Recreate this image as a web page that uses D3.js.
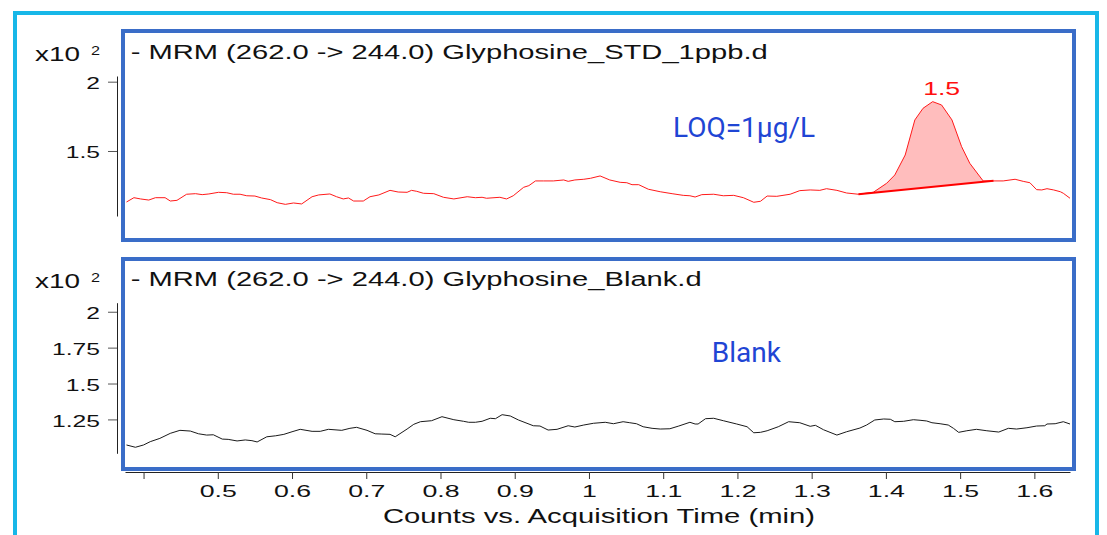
<!DOCTYPE html>
<html><head><meta charset="utf-8">
<script src="https://cdn.jsdelivr.net/npm/d3@7"></script>
<style>body{margin:0;background:#fff}svg{display:block}text{font-family:"Liberation Sans",Arial,sans-serif}</style>
</head><body><svg id="c" width="1107" height="535"></svg>
<script>
// ---- data (counts in units of x10^2) ----
const stdTimes=[0.377,0.387,0.396,0.407,0.416,0.429,0.436,0.445,0.458,0.470,
0.479,0.488,0.501,0.512,0.521,0.530,0.539,0.550,0.559,0.571,
0.580,0.591,0.602,0.613,0.627,0.636,0.651,0.660,0.669,0.676,
0.683,0.696,0.705,0.717,0.732,0.743,0.755,0.761,0.768,0.777,
0.791,0.804,0.818,0.836,0.847,0.856,0.862,0.880,0.889,0.898,
0.912,0.919,0.928,0.939,0.952,0.966,0.972,0.981,0.993,1.002,
1.015,1.028,1.042,1.051,1.058,1.067,1.080,1.096,1.112,1.127,
1.136,1.143,1.152,1.168,1.181,1.195,1.208,1.222,1.231,1.240,
1.253,1.271,1.284,1.298,1.311,1.320,1.334,1.347,1.363,1.383,
1.401,1.412,1.426,1.439,1.450,1.463,1.475,1.489,1.502,1.513,
1.531,1.545,1.558,1.574,1.585,1.594,1.603,1.610,1.617,1.626,
1.635,1.639,1.648];
const stdCounts=[1.132,1.163,1.154,1.146,1.163,1.163,1.139,1.144,1.188,1.192,
1.185,1.190,1.202,1.199,1.188,1.188,1.177,1.175,1.161,1.149,
1.127,1.115,1.125,1.118,1.170,1.183,1.190,1.170,1.154,1.161,
1.139,1.139,1.170,1.183,1.216,1.204,1.202,1.216,1.209,1.195,
1.192,1.166,1.154,1.170,1.163,1.166,1.159,1.166,1.154,1.177,
1.238,1.250,1.284,1.284,1.284,1.291,1.281,1.291,1.296,1.303,
1.320,1.291,1.274,1.271,1.257,1.257,1.224,1.206,1.192,1.180,
1.177,1.168,1.185,1.188,1.177,1.180,1.163,1.130,1.137,1.175,
1.173,1.188,1.214,1.219,1.216,1.228,1.216,1.197,1.188,1.202,
1.267,1.327,1.471,1.724,1.808,1.856,1.832,1.724,1.531,1.411,
1.284,1.284,1.284,1.296,1.281,1.271,1.221,1.219,1.228,1.219,
1.206,1.195,1.159];
const blankTimes=[0.377,0.389,0.400,0.409,0.422,0.436,0.449,0.463,0.474,0.485,
0.494,0.506,0.514,0.526,0.537,0.546,0.553,0.566,0.578,0.589,
0.600,0.611,0.627,0.638,0.649,0.667,0.678,0.687,0.701,0.712,
0.721,0.732,0.739,0.755,0.764,0.773,0.788,0.802,0.818,0.831,
0.838,0.847,0.856,0.867,0.874,0.883,0.894,0.905,0.925,0.934,
0.945,0.957,0.972,0.981,0.993,1.006,1.022,1.033,1.046,1.055,
1.064,1.073,1.085,1.096,1.109,1.121,1.136,1.143,1.147,1.157,
1.168,1.181,1.199,1.213,1.222,1.231,1.240,1.255,1.269,1.284,
1.298,1.305,1.316,1.334,1.347,1.365,1.374,1.385,1.397,1.406,
1.412,1.424,1.437,1.446,1.455,1.462,1.473,1.484,1.491,1.498,
1.509,1.522,1.536,1.552,1.565,1.576,1.590,1.603,1.614,1.617,
1.628,1.639,1.648];
const blankCounts=[1.072,1.056,1.072,1.095,1.118,1.153,1.174,1.169,1.150,1.141,
1.143,1.113,1.111,1.100,1.107,1.102,1.093,1.129,1.136,1.146,
1.164,1.181,1.167,1.167,1.181,1.174,1.188,1.195,1.174,1.150,
1.148,1.146,1.129,1.183,1.216,1.234,1.241,1.269,1.248,1.237,
1.230,1.230,1.237,1.258,1.255,1.283,1.274,1.246,1.206,1.204,
1.176,1.181,1.206,1.197,1.211,1.223,1.230,1.220,1.234,1.227,
1.220,1.199,1.188,1.183,1.185,1.204,1.230,1.218,1.218,1.255,
1.258,1.241,1.218,1.199,1.157,1.160,1.171,1.199,1.234,1.227,
1.202,1.209,1.178,1.141,1.164,1.190,1.211,1.246,1.253,1.251,
1.234,1.237,1.248,1.244,1.239,1.227,1.220,1.211,1.188,1.160,
1.171,1.181,1.171,1.162,1.188,1.183,1.192,1.204,1.206,1.218,
1.220,1.234,1.218];
const peakBaseTimes=[1.363,1.545];
const peakBaseCounts=[1.188,1.286];
const peakLabel="1.5";
const xTicks=[0.4,0.5,0.6,0.7,0.8,0.9,1.0,1.1,1.2,1.3,1.4,1.5,1.6];
const xTickLabels=["","0.5","0.6","0.7","0.8","0.9","1","1.1","1.2","1.3","1.4","1.5","1.6"];
const topYTicks=[1.5,2];
const topYTickLabels=["1.5","2"];
const botYTicks=[1.25,1.5,1.75,2];
const botYTickLabels=["1.25","1.5","1.75","2"];
const titles=["- MRM (262.0 -> 244.0) Glyphosine_STD_1ppb.d","- MRM (262.0 -> 244.0) Glyphosine_Blank.d"];
const notes=["LOQ=1\u03bcg/L","Blank"];
const xTitle="Counts vs. Acquisition Time (min)";

const svg=d3.select("#c");
const x=d3.scaleLinear().domain([0.375,1.648]).range([125,1070]);
const yTop=d3.scaleLinear().domain([1.031,2.041]).range([216,76]);
const yBot=d3.scaleLinear().domain([1.014,2.063]).range([453.3,302.7]);

function stretch(sel,k){sel.each(function(){const w=this.getComputedTextLength();if(w>0){d3.select(this).attr("textLength",w*k).attr("lengthAdjust","spacingAndGlyphs");}});}
function txt(s,xx,yy,size,opts={}){
  const t=svg.append("text").attr("x",xx).attr("y",yy).attr("font-size",size)
   .attr("fill",opts.fill||"#111").attr("text-anchor",opts.anchor||"start").text(s);
  if(opts.family) t.style("font-family",opts.family);
  if(opts.len) t.attr("textLength",opts.len).attr("lengthAdjust","spacingAndGlyphs");
  return t;
}

// outer frame
svg.append("rect").attr("x",15).attr("y",13).attr("width",1082).attr("height",600)
  .attr("fill","none").attr("stroke","#17b7e8").attr("stroke-width",4);

// traces
const topData=stdTimes.map((t,i)=>({t,v:stdCounts[i]}));
const botData=blankTimes.map((t,i)=>({t,v:blankCounts[i]}));
const baseAt=t=>peakBaseCounts[0]+(t-peakBaseTimes[0])*(peakBaseCounts[1]-peakBaseCounts[0])/(peakBaseTimes[1]-peakBaseTimes[0]);
const peakData=topData.filter(d=>d.t>=peakBaseTimes[0]&&d.t<=peakBaseTimes[1]);
svg.append("path").datum(peakData)
  .attr("d",d3.area().x(d=>x(d.t)).y0(d=>yTop(baseAt(d.t))).y1(d=>yTop(Math.max(d.v,baseAt(d.t)))))
  .attr("fill","#ffbdbd");
svg.append("path").datum(topData)
  .attr("d",d3.line().x(d=>x(d.t)).y(d=>yTop(d.v)))
  .attr("fill","none").attr("stroke","#ff1a1a").attr("stroke-width",1);
svg.append("line").attr("x1",x(peakBaseTimes[0])).attr("y1",yTop(peakBaseCounts[0]))
  .attr("x2",x(peakBaseTimes[1])).attr("y2",yTop(peakBaseCounts[1]))
  .attr("stroke","#ff0000").attr("stroke-width",2);
svg.append("path").datum(botData)
  .attr("d",d3.line().x(d=>x(d.t)).y(d=>yBot(d.v)))
  .attr("fill","none").attr("stroke","#1a1a1a").attr("stroke-width",1);

// panel boxes
[[31,240],[259,469]].forEach(([a,b])=>{
  svg.append("rect").attr("x",123).attr("y",a).attr("width",951).attr("height",b-a)
    .attr("fill","none").attr("stroke","#3a6dc8").attr("stroke-width",4);
});

// y axes
function yAxis(scale,ticks,labels){
  const g=svg.append("g").attr("transform","translate(117,0)")
    .call(d3.axisLeft(scale).tickValues(ticks).tickFormat((d,i)=>labels[i]).tickSize(9).tickPadding(8).tickSizeOuter(0));
  g.select(".domain").attr("stroke","#222");
  g.selectAll(".tick line").attr("stroke","#555");
  g.selectAll(".tick text").attr("font-size",17).attr("fill","#111").attr("dy","0.39em")
    .style("font-family",'"Liberation Sans",Arial,sans-serif').call(stretch,1.45);
}
yAxis(yTop,topYTicks,topYTickLabels);
yAxis(yBot,botYTicks,botYTickLabels);

// x axis
const gx=svg.append("g").attr("transform","translate(0,472)")
  .call(d3.axisBottom(x).tickValues(xTicks).tickFormat((d,i)=>xTickLabels[i]).tickSize(7).tickSizeOuter(0));
gx.select(".domain").attr("stroke","#222");
gx.selectAll(".tick line").attr("stroke","#333");
gx.selectAll(".tick text").attr("font-size",17).attr("fill","#111").attr("y",24.7).attr("dy",0)
  .style("font-family",'"Liberation Sans",Arial,sans-serif').call(stretch,1.57);

// texts
[[61,59.3,637],[288.3,286,571]].forEach(([by,ty,tl],i)=>{
  txt("x10",35,by,20,{len:45});
  txt("2",91,by-6,13,{len:9});
  txt(titles[i],130.7,ty,20,{len:tl});
});
txt(notes[0],673,136.7,28,{fill:"#1f45d4",family:"Roboto"});
txt(notes[1],711.7,361.7,28,{fill:"#1f45d4",family:"Roboto"});
txt(peakLabel,941.7,95,18.6,{fill:"#ff1010",anchor:"middle",len:37});
txt(xTitle,599,523,19.5,{anchor:"middle",len:432});
</script></body></html>
